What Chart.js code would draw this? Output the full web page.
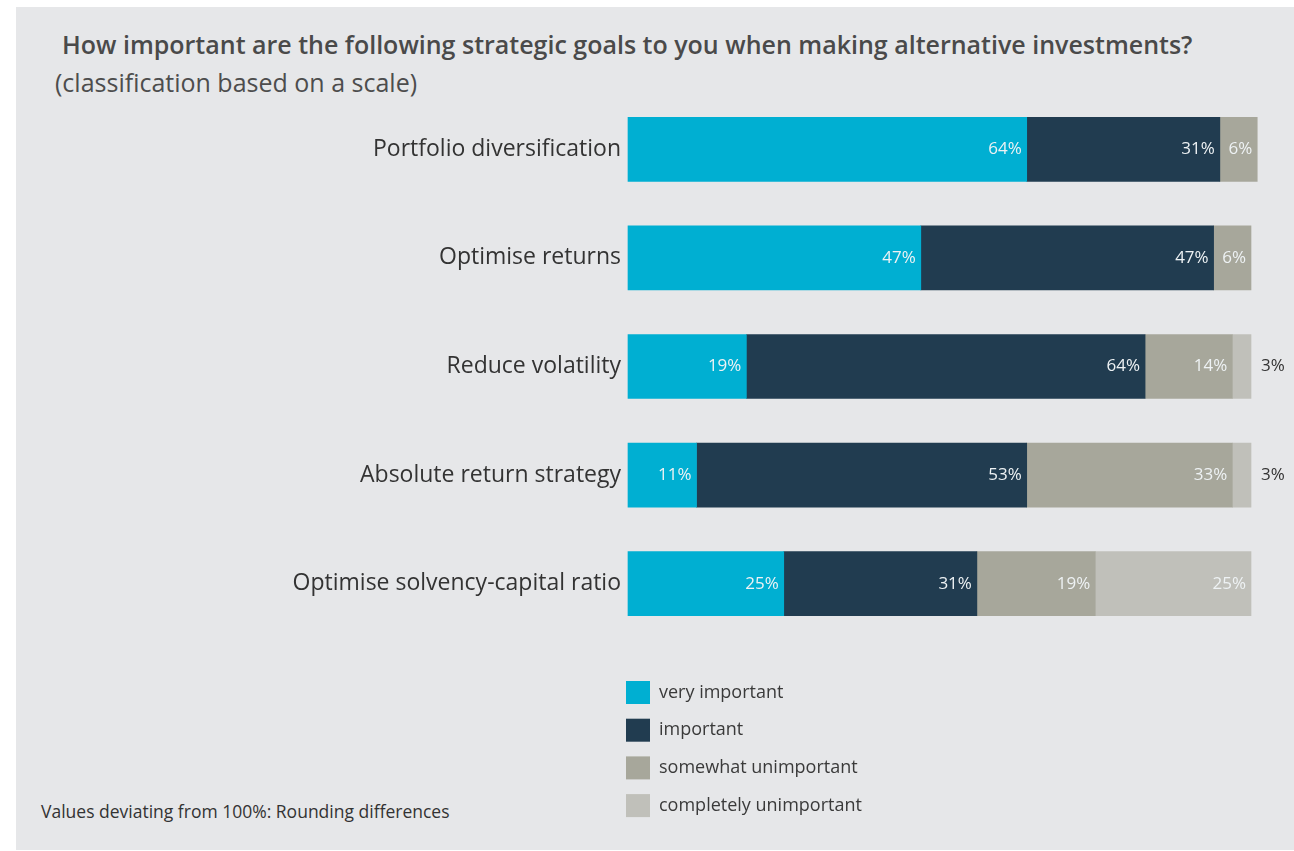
<!DOCTYPE html>
<html>
<head>
<meta charset="utf-8">
<script src="https://cdn.jsdelivr.net/npm/chart.js@4.4.1/dist/chart.umd.min.js"></script>
<style>
  html, body { margin: 0; padding: 0; background: #ffffff; }
  body { width: 1294px; height: 851px; position: relative; overflow: hidden; font-family: "Open Sans", "Noto Sans", sans-serif; }
  #panel { position: absolute; left: 16px; top: 7px; right: 0; height: 843px; background: #e6e7e9; }
  #wrap { position: absolute; left: 0; top: 0; width: 1294px; height: 851px; }
  .txt { position: absolute; white-space: nowrap; color: #4a4a4a; }
  #title { left: 62px; top: 27px; font-size: 25px; font-weight: 600; }
  #subtitle { left: 55px; top: 65px; font-size: 25px; color: #4d4d4d; }
  #note { left: 41px; top: 799px; font-size: 17.5px; color: #333; }
</style>
</head>
<body>
<div id="panel"></div>
<div class="txt" id="title">How important are the following strategic goals to you when making alternative investments?</div>
<div class="txt" id="subtitle">(classification based on a scale)</div>
<div class="txt" id="note">Values deviating from 100%: Rounding differences</div>
<div id="wrap"><canvas id="chart" width="1294" height="851"></canvas></div>

<script>
// goals and answer shares (%)
const goals = [
  "Portfolio diversification",
  "Optimise returns",
  "Reduce volatility",
  "Absolute return strategy",
  "Optimise solvency-capital ratio"
];

const veryImportant = [64, 47, 19, 11, 25];
const important = [31, 47, 64, 53, 31];
const somewhatUnimportant = [6, 6, 14, 33, 19];
const completelyUnimportant = [null, null, 3, 3, 25];

const seriesNames = ["very important", "important", "somewhat unimportant", "completely unimportant"];
const seriesColors = ["#00afd2", "#213c50", "#a7a79b", "#c0c0ba"];

const FONT = '"Open Sans", "Noto Sans", sans-serif';

// percent labels inside each segment; small end segments get their label outside the bar
const segmentLabels = {
  id: "segmentLabels",
  afterDatasetsDraw(chart) {
    const ctx = chart.ctx;
    const last = chart.data.datasets.length - 1;
    ctx.save();
    ctx.font = "17px " + FONT;
    ctx.textBaseline = "middle";
    chart.data.datasets.forEach((ds, di) => {
      const meta = chart.getDatasetMeta(di);
      meta.data.forEach((bar, i) => {
        const v = ds.data[i];
        if (v == null) return;
        if (di === last && v < 5) {
          ctx.fillStyle = "#333333";
          ctx.textAlign = "left";
          ctx.fillText(v + "%", bar.x + 10, bar.y);
        } else {
          ctx.fillStyle = "#eef2f4";
          ctx.textAlign = "right";
          ctx.fillText(v + "%", bar.x - 5, bar.y);
        }
      });
    });
    ctx.restore();
  }
};

// vertical legend under the bars
const sideLegend = {
  id: "sideLegend",
  afterDraw(chart) {
    const ctx = chart.ctx;
    const left = chart.chartArea.left - 2;
    let top = 681;
    ctx.save();
    ctx.font = "18px " + FONT;
    ctx.textBaseline = "middle";
    ctx.textAlign = "left";
    chart.data.datasets.forEach(ds => {
      ctx.fillStyle = ds.backgroundColor;
      ctx.fillRect(left, top, 24, 23);
      ctx.fillStyle = "#3a3a3a";
      ctx.fillText(ds.label, left + 33, top + 11.5);
      top += 37.7;
    });
    ctx.restore();
  }
};

const datasets = [veryImportant, important, somewhatUnimportant, completelyUnimportant].map((values, k) => ({
  label: seriesNames[k],
  data: values,
  backgroundColor: seriesColors[k],
  borderWidth: 0,
  barThickness: 64,
  clip: false
}));

new Chart(document.getElementById("chart"), {
  type: "bar",
  data: { labels: goals, datasets },
  plugins: [segmentLabels, sideLegend],
  options: {
    indexAxis: "y",
    responsive: false,
    animation: false,
    events: [],
    layout: { padding: { top: 95, right: 43, bottom: 213, left: 0 } },
    plugins: {
      legend: { display: false },
      tooltip: { enabled: false },
      title: { display: false }
    },
    scales: {
      x: {
        stacked: true,
        min: 0,
        max: 100,
        display: false
      },
      y: {
        stacked: true,
        grid: { display: false, drawTicks: false },
        border: { display: false },
        ticks: {
          color: "#333333",
          padding: 7,
          font: { family: FONT, size: 23 }
        },
        afterFit(scale) { scale.width = 628; }
      }
    }
  }
});
</script>
</body>
</html>
